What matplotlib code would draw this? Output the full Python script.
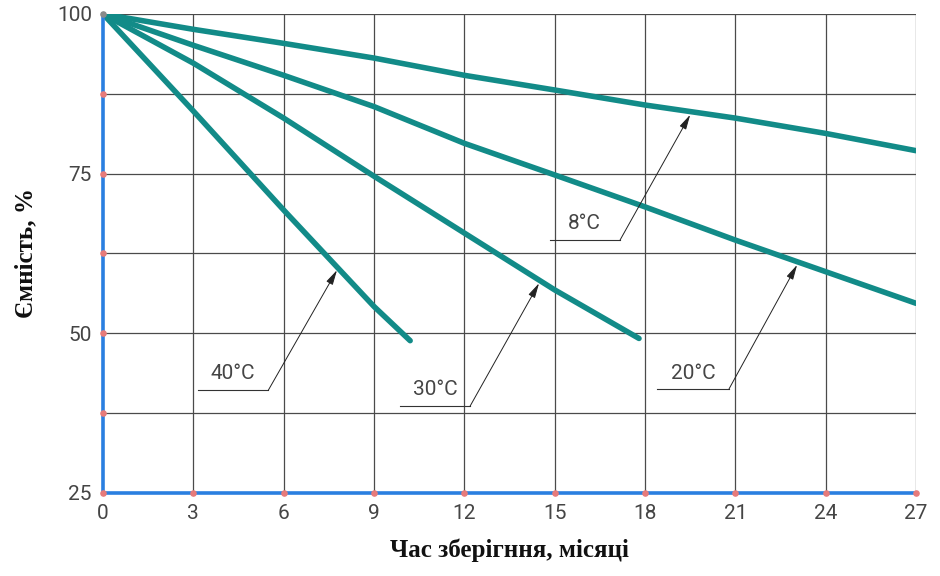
import numpy as np
import matplotlib
matplotlib.use("Agg")
import matplotlib.pyplot as plt

# Storage time, months
x_8 = [0, 3, 6, 9, 12, 15, 18, 21, 24, 27]
cap_8 = [100, 97.6, 95.4, 93.1, 90.4, 88.1, 85.75, 83.7, 81.3, 78.6]

x_20 = [0, 3, 6, 9, 12, 15, 18, 21, 24, 27]
cap_20 = [100, 95.1, 90.4, 85.5, 79.75, 74.8, 69.8, 64.6, 59.65, 54.7]

x_30 = [0, 3, 6, 9, 12, 15, 17.8]
cap_30 = [100, 92.3, 83.7, 74.6, 65.7, 56.8, 49.2]

x_40 = [0, 3, 6, 9, 10.2]
cap_40 = [100, 84.8, 69.3, 54.2, 48.85]

x_ticks = [0, 3, 6, 9, 12, 15, 18, 21, 24, 27]
y_grid = [25, 37.5, 50, 62.5, 75, 87.5, 100]
y_labels = [25, 50, 75, 100]

series = [
    ("8°C", x_8, cap_8),
    ("20°C", x_20, cap_20),
    ("30°C", x_30, cap_30),
    ("40°C", x_40, cap_40),
]

# callout: (underline start x, end x, y), arrow tip x, text centre
callouts = {
    "40°C": ((3.15, 5.49, 41.1), 7.77, (4.32, 43.7)),
    "30°C": ((9.86, 12.19, 38.6), 14.48, (11.03, 41.2)),
    "8°C": ((14.85, 17.17, 64.6), 19.5, (16.0, 67.2)),
    "20°C": ((18.4, 20.79, 41.3), 23.05, (19.6, 43.7)),
}

line_color = "#128b88"
grid_color = "#4a4a4a"
spine_color = "#2a7fe0"
dot_color = "#e77b7b"
text_color = "#454545"
num_family = ["Roboto", "DejaVu Sans"]
num_size = 15

fig = plt.figure(figsize=(9.4, 5.76), dpi=100)
ax = fig.add_axes([0.1096, 0.1441, 0.8649, 0.8316])
ax.set_xlim(0, 27)
ax.set_ylim(25, 100)

# grid
for xv in x_ticks[1:]:
    ax.axvline(xv, color=grid_color, lw=0.9, zorder=1)
for yv in y_grid[1:]:
    ax.axhline(yv, color=grid_color, lw=0.9, zorder=1)

for name, xs, ys in series:
    ax.plot(xs, ys, color=line_color, lw=4.0, solid_capstyle="round", zorder=3)

for name, xs, ys in series:
    (ux0, ux1, uy), tip_x, (tx, ty) = callouts[name]
    tip_y = float(np.interp(tip_x, xs, ys)) - 0.5
    ax.plot([ux0, ux1], [uy, uy], color="#333333", lw=0.8, zorder=4)
    ax.annotate("", xy=(tip_x, tip_y), xytext=(ux1, uy),
                arrowprops=dict(arrowstyle="-|>,head_length=0.9,head_width=0.22",
                                color="#222222", lw=0.7, shrinkA=0, shrinkB=0),
                zorder=4)
    ax.text(tx, ty, name, ha="center", va="center", fontsize=num_size,
            family=num_family, color=text_color, zorder=4)

# spines
for s in ("top", "right"):
    ax.spines[s].set_visible(False)
for s in ("left", "bottom"):
    ax.spines[s].set_color(spine_color)
    ax.spines[s].set_linewidth(2.6)
    ax.spines[s].set_zorder(5)

# dots at grid intersections along the axes
ax.scatter(x_ticks, [25] * len(x_ticks), s=14, color=dot_color, zorder=6, clip_on=False)
ax.scatter([0] * (len(y_grid) - 2), y_grid[1:-1], s=14, color=dot_color, zorder=6, clip_on=False)
ax.scatter([0], [100], s=14, color="#8a8a8a", zorder=6, clip_on=False)

ax.set_xticks(x_ticks)
ax.set_yticks(y_labels)
ax.tick_params(length=0, pad=8, labelcolor=text_color)
for lab in ax.get_xticklabels() + ax.get_yticklabels():
    lab.set_family(num_family)
    lab.set_fontsize(num_size)

ax.set_xlabel("Час зберігння, місяці", fontsize=18, fontweight="bold",
              family="Liberation Serif", labelpad=11, color="#111111")
ax.set_ylabel("Ємність, %", fontsize=18, fontweight="bold",
              family="Liberation Serif", labelpad=14, color="#111111")

fig.savefig("out.png", dpi=100, facecolor="white")
